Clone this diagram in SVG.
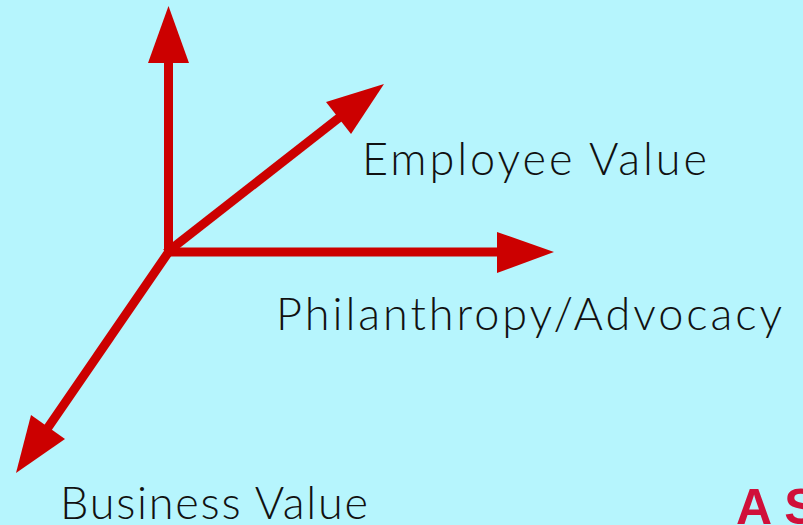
<svg xmlns="http://www.w3.org/2000/svg" width="803" height="525" viewBox="0 0 803 525">
<style>
.shaft{stroke:#cc0000;stroke-width:9;fill:none}
.head{fill:#cc0000}
.lbl{font-family:Lato,"Open Sans",sans-serif;font-weight:300;font-size:45px;fill:#111}
</style>
<rect width="803" height="525" fill="#b6f5fd"/>
<g id="connectors">
<line class="shaft" x1="168.5" y1="256" x2="168.5" y2="60"/>
<polygon class="head" points="168.5,6 148,63 189,63"/>
<line class="shaft" x1="164" y1="252" x2="500" y2="252"/>
<polygon class="head" points="554,252 497,232 497,273"/>
<line class="shaft" x1="166" y1="253" x2="340" y2="117"/>
<polygon class="head" points="384,84 326,102 351,134"/>
<line class="shaft" x1="170" y1="250" x2="47" y2="429"/>
<polygon class="head" points="16,473 31,415 65,439"/>
</g>
<g id="employee"><text class="lbl" x="362" y="175" textLength="345" lengthAdjust="spacing">Employee Value</text></g>
<g id="philanthropy"><text class="lbl" x="276" y="330" textLength="506" lengthAdjust="spacing">Philanthropy/Advocacy</text></g>
<g id="business"><text class="lbl" x="60" y="519" textLength="308" lengthAdjust="spacing">Business Value</text></g>
<g id="logo"><text x="736" y="524" font-family="'Liberation Sans',sans-serif" font-weight="bold" font-size="50" fill="#d0103a">A S</text></g>
</svg>
